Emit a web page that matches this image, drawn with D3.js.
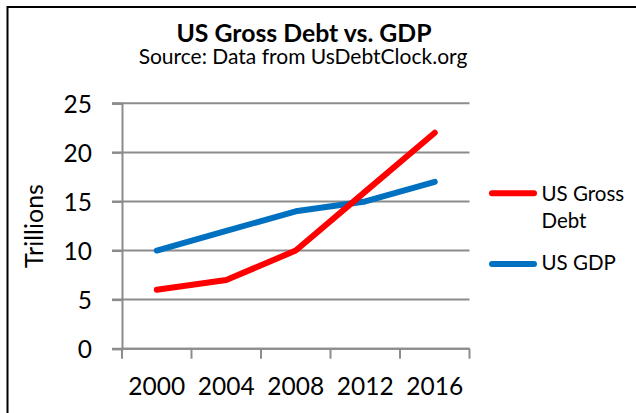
<!DOCTYPE html>
<html>
<head>
<meta charset="utf-8">
<script src="https://cdn.jsdelivr.net/npm/d3@7"></script>
<style>
  html, body { margin: 0; padding: 0; background: #fff; }
  svg { display: block; font-family: Lato, "Open Sans", sans-serif; }
</style>
</head>
<body>
<svg id="chart" width="636" height="413"></svg>
<script>
// Chart data (trillions of US dollars)
const years = ["2000", "2004", "2008", "2012", "2016"];
const grossDebt = [6, 7, 10, 16, 22];
const gdp = [10, 12, 14, 15, 17];
const seriesNames = ["US Gross Debt", "US GDP"];
const seriesColors = ["#FF0000", "#0070C0"];
const yTicks = [0, 5, 10, 15, 20, 25];

const svg = d3.select("#chart");

// outer chart frame
svg.append("rect")
  .attr("x", 7.5).attr("y", 7)
  .attr("width", 700).attr("height", 500)
  .attr("fill", "#fff")
  .attr("stroke", "#000")
  .attr("stroke-width", 2);

const plot = { left: 122, right: 469.5, top: 103.3, bottom: 348.7 };

const x = d3.scaleBand().domain(years).range([plot.left, plot.right]).padding(0);
const y = d3.scaleLinear().domain([0, 25]).range([plot.bottom, plot.top]);

// horizontal gridlines
svg.append("g")
  .selectAll("line")
  .data(yTicks)
  .join("line")
  .attr("x1", plot.left - 10).attr("x2", plot.right)
  .attr("y1", d => y(d)).attr("y2", d => y(d))
  .attr("stroke", "#8c8c8c")
  .attr("stroke-width", 2);

// y axis
const yAxis = svg.append("g")
  .attr("transform", `translate(${plot.left},0)`)
  .call(d3.axisLeft(y).tickValues(yTicks).tickSize(10).tickPadding(20).tickFormat(d3.format("d")));
yAxis.select(".domain").attr("stroke", "#8c8c8c").attr("stroke-width", 2);
yAxis.selectAll(".tick line").attr("stroke", "#8c8c8c").attr("stroke-width", 2);
yAxis.selectAll(".tick text")
  .attr("fill", "#000")
  .attr("font-family", "Lato, sans-serif")
  .attr("font-size", 24.5)
  .attr("dy", "0.36em");

// x axis: tick marks at category boundaries, labels centered in each band
const boundaries = years.map(d => x(d)).concat([x(years[years.length - 1]) + x.bandwidth()]);
const xAxis = svg.append("g");
xAxis.append("line")
  .attr("x1", plot.left).attr("x2", plot.right)
  .attr("y1", plot.bottom).attr("y2", plot.bottom)
  .attr("stroke", "#8c8c8c").attr("stroke-width", 2);
xAxis.selectAll("line.tk")
  .data(boundaries)
  .join("line")
  .attr("class", "tk")
  .attr("x1", d => d).attr("x2", d => d)
  .attr("y1", plot.bottom).attr("y2", plot.bottom + 10)
  .attr("stroke", "#8c8c8c").attr("stroke-width", 2);
xAxis.selectAll("text")
  .data(years)
  .join("text")
  .attr("x", d => x(d) + x.bandwidth() / 2)
  .attr("y", 395)
  .attr("text-anchor", "middle")
  .attr("font-size", 24.5)
  .attr("fill", "#000")
  .text(d => d);

// y axis title
svg.append("text")
  .attr("transform", "translate(43,226) rotate(-90)")
  .attr("text-anchor", "middle")
  .attr("font-size", 25)
  .attr("fill", "#000")
  .text("Trillions");

// titles
svg.append("text")
  .attr("x", 304).attr("y", 42)
  .attr("text-anchor", "middle")
  .attr("font-size", 24.8)
  .attr("font-weight", "bold")
  .attr("fill", "#000")
  .text("US Gross Debt vs. GDP");
svg.append("text")
  .attr("x", 303).attr("y", 64)
  .attr("text-anchor", "middle")
  .attr("font-size", 21)
  .attr("fill", "#000")
  .text("Source: Data from UsDebtClock.org");

// series lines
const series = [grossDebt, gdp];
const line = d3.line()
  .x((d, i) => x(years[i]) + x.bandwidth() / 2)
  .y(d => y(d));

svg.append("g")
  .selectAll("path")
  .data([1, 0])
  .join("path")
  .attr("d", i => line(series[i]))
  .attr("fill", "none")
  .attr("stroke", i => seriesColors[i])
  .attr("stroke-width", 6)
  .attr("stroke-linecap", "round")
  .attr("stroke-linejoin", "round");

// legend
const legend = svg.append("g");
const legendRows = [
  { lineY: 193.3, textY: 200.7, lines: ["US Gross", "Debt"] },
  { lineY: 264, textY: 270, lines: ["US GDP"] }
];
legendRows.forEach((row, i) => {
  legend.append("line")
    .attr("x1", 492).attr("x2", 534)
    .attr("y1", row.lineY).attr("y2", row.lineY)
    .attr("stroke", seriesColors[i])
    .attr("stroke-width", 6)
    .attr("stroke-linecap", "round");
  const t = legend.append("text")
    .attr("x", 541.5)
    .attr("y", row.textY)
    .attr("font-size", 20.5)
    .attr("fill", "#000");
  row.lines.forEach((s, j) => {
    t.append("tspan").attr("x", 541.5).attr("dy", j === 0 ? 0 : 27.6).text(s);
  });
});
</script>
</body>
</html>
